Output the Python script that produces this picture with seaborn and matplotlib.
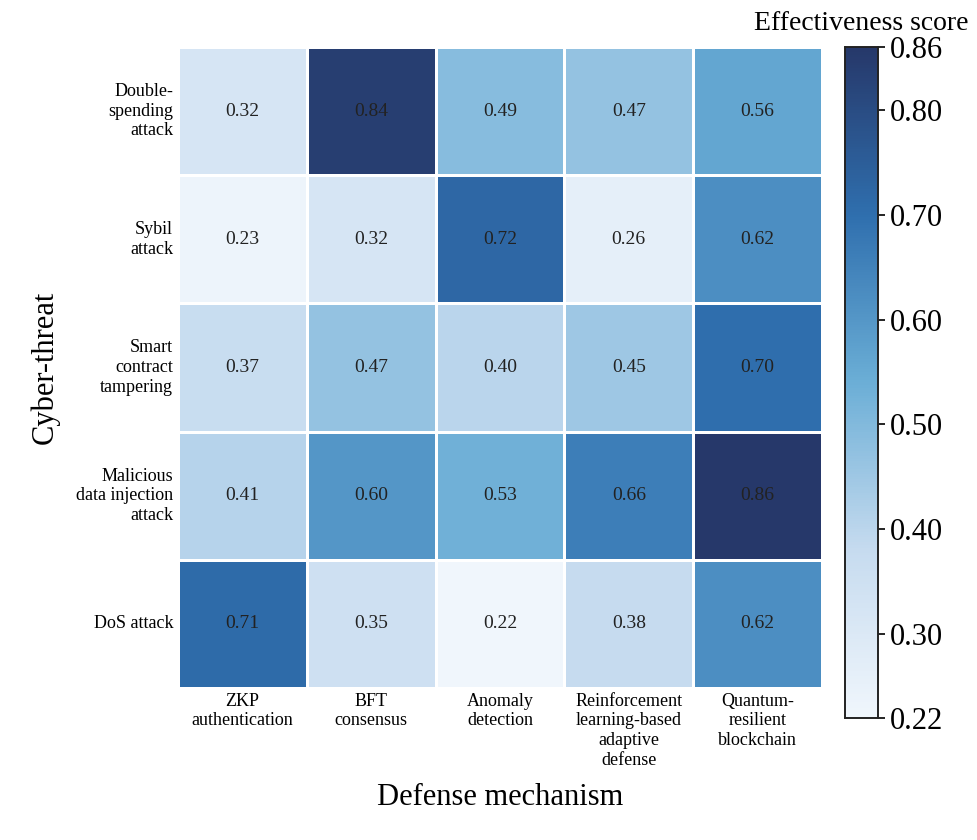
import numpy as np
import pandas as pd
import matplotlib
matplotlib.use("Agg")
import matplotlib.pyplot as plt
from matplotlib.colors import LinearSegmentedColormap
import seaborn as sns

threats = ["Double-\nspending\nattack", "Sybil\nattack", "Smart\ncontract\ntampering",
           "Malicious\ndata injection\nattack", "DoS attack"]
defenses = ["ZKP\nauthentication", "BFT\nconsensus", "Anomaly\ndetection",
            "Reinforcement\nlearning-based\nadaptive\ndefense", "Quantum-\nresilient\nblockchain"]
scores = [
    [0.32, 0.84, 0.49, 0.47, 0.56],
    [0.23, 0.32, 0.72, 0.26, 0.62],
    [0.37, 0.47, 0.40, 0.45, 0.70],
    [0.41, 0.60, 0.53, 0.66, 0.86],
    [0.71, 0.35, 0.22, 0.38, 0.62],
]
cbar_ticks = [0.22, 0.30, 0.40, 0.50, 0.60, 0.70, 0.80, 0.86]

df = pd.DataFrame(scores, index=threats, columns=defenses)

plt.rcParams['font.family'] = ['Liberation Serif', 'DejaVu Serif']

cmap = LinearSegmentedColormap.from_list(
    "eff", ["#f0f6fc", "#c6dbef", "#6baed6", "#2f6fae", "#26386a"])

fig = plt.figure(figsize=(9.78, 8.40), dpi=100)
W, H = 978, 840
ax = fig.add_axes([178 / W, 1 - 688 / H, 644 / W, 641 / H])
cax = fig.add_axes([845 / W, 1 - 718 / H, 33 / W, 671 / H])

sns.heatmap(df, ax=ax, cbar_ax=cax, cmap=cmap, vmin=0.22, vmax=0.86,
            annot=True, fmt=".2f", linewidths=2, linecolor="white",
            annot_kws={"fontsize": 14, "color": "#222222"},
            cbar_kws={"ticks": cbar_ticks})

ax.set_xlabel("Defense mechanism", fontsize=22, labelpad=10)
ax.set_ylabel("Cyber-threat", fontsize=22, labelpad=12)
ax.tick_params(axis="both", length=0, labelsize=13)
plt.setp(ax.get_xticklabels(), rotation=0, ha="center", va="top")
plt.setp(ax.get_yticklabels(), rotation=0, ha="right", va="center", multialignment="right")

cax.set_yticklabels([f"{t:.2f}" for t in cbar_ticks])
cax.tick_params(labelsize=22, length=5, width=1.2)
for s in cax.spines.values():
    s.set_visible(True)
    s.set_color("#222222")
    s.set_linewidth(1.2)
cax.set_title("Effectiveness score", fontsize=20, pad=12)

fig.savefig("out.png", dpi=100)
